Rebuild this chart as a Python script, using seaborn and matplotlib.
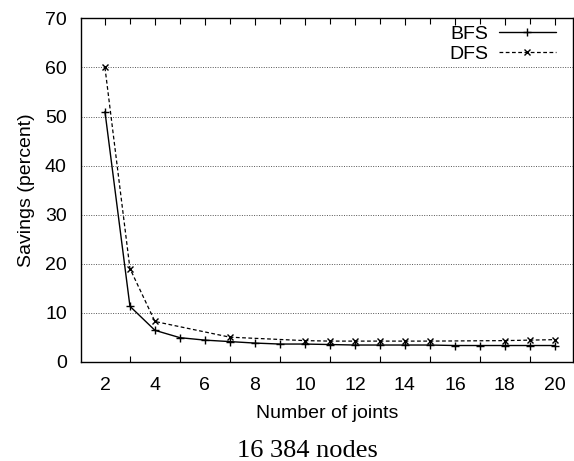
import matplotlib
matplotlib.use("Agg")
import matplotlib.pyplot as plt
from matplotlib.ticker import MultipleLocator
import seaborn as sns
import pandas as pd

bfs_x = list(range(2, 21))
bfs_y = [51.0, 11.3, 6.4, 4.9, 4.4, 4.1, 3.8, 3.6, 3.6, 3.5, 3.4, 3.4, 3.4, 3.4, 3.3, 3.3, 3.3, 3.3, 3.3]
dfs_x = [2, 3, 4, 7, 10, 11, 12, 13, 14, 15, 18, 19, 20]
dfs_y = [60.0, 19.0, 8.2, 5.0, 4.3, 4.2, 4.2, 4.2, 4.2, 4.2, 4.3, 4.4, 4.5]
x_ticks = list(range(2, 21, 2))
y_ticks = list(range(0, 71, 10))

sns.set_theme(style="white")
plt.rcParams['font.family'] = ['Liberation Sans', 'DejaVu Sans']
plt.rcParams.update({"text.color": "black", "axes.labelcolor": "black",
                     "xtick.color": "black", "ytick.color": "black"})

fig = plt.figure(figsize=(5.74, 4.61), dpi=100)
ax = fig.add_axes([0.1406, 0.2154, 0.8574, 0.7446])

bfs = pd.DataFrame({"x": bfs_x, "y": bfs_y})
dfs = pd.DataFrame({"x": dfs_x, "y": dfs_y})
sns.lineplot(data=bfs, x="x", y="y", ax=ax, color="black", lw=1.0, marker="+",
             markersize=6, markeredgewidth=1.0, markeredgecolor="black", label="BFS")
sns.lineplot(data=dfs, x="x", y="y", ax=ax, color="black", lw=0.9, linestyle=(0, (3, 2)),
             marker="x", markersize=4.5, markeredgewidth=1.0, markeredgecolor="black", label="DFS")

ax.set_xlim(1.03, 20.72)
ax.set_ylim(0, 70)
ax.set_xticks(x_ticks)
ax.set_yticks(y_ticks)
ax.xaxis.set_minor_locator(MultipleLocator(1))
ax.tick_params(axis="both", which="major", direction="in", length=5, width=0.8, labelsize=14,
               color="black", top=True, right=False)
ax.tick_params(axis="x", which="minor", direction="in", length=4, width=0.8, color="black",
               top=True, bottom=True)
ax.tick_params(axis="x", which="major", pad=11)
ax.tick_params(axis="y", which="major", pad=10)
for s in ax.spines.values():
    s.set_color("black")
    s.set_linewidth(1.0)
ax.yaxis.grid(True, linestyle=(0, (1, 1.5)), color="#555555", lw=0.7)
ax.xaxis.grid(False)
ax.set_xlabel("Number of joints", fontsize=14, labelpad=8)
ax.set_ylabel("Savings (percent)", fontsize=14, labelpad=7)

leg = ax.legend(loc="upper right", bbox_to_anchor=(0.974, 0.992), frameon=False,
                markerfirst=False, fontsize=14, handlelength=2.96, borderaxespad=0.0,
                borderpad=0.2, labelspacing=0.15, handletextpad=0.55)
for t in leg.get_texts():
    t.set_ha("right")

fig.text(0.536, 0.009, "16 384 nodes", ha="center", va="baseline", fontsize=19,
         family=["Liberation Serif", "DejaVu Serif"])

fig.savefig("out.png", dpi=100)
